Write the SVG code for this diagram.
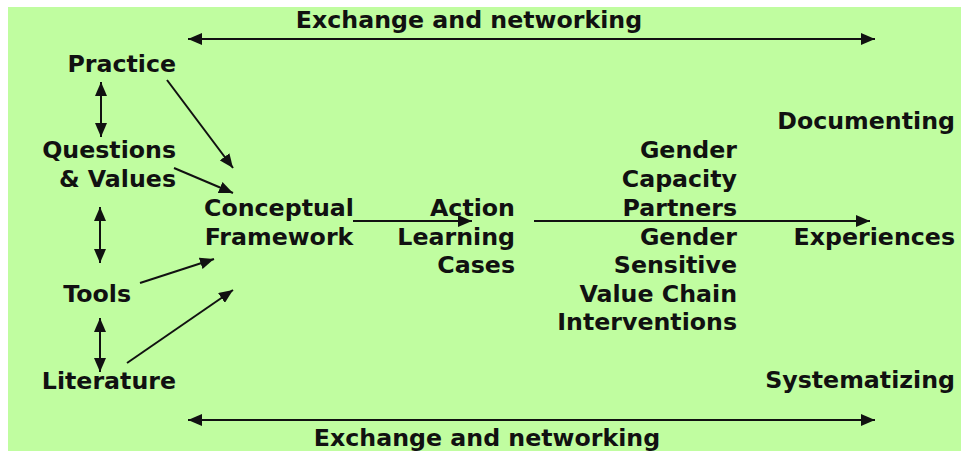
<svg xmlns="http://www.w3.org/2000/svg" width="961" height="451" viewBox="0 0 961 451">
<defs>
<style>
text{font-family:"DejaVu Sans","Verdana",sans-serif;font-weight:bold;font-size:23.7px;fill:#111}
.e{text-anchor:end}
.m{text-anchor:middle}
.c{stroke:#111;stroke-width:2;fill:none}
</style>
<marker id="ah" viewBox="0 0 14 12" refX="14" refY="6" markerWidth="14" markerHeight="12" markerUnits="userSpaceOnUse" orient="auto-start-reverse">
<path d="M0,0 L14,6 L0,12 Z" fill="#111"/>
</marker>
</defs>
<rect x="0" y="0" width="961" height="451" fill="#fff"/>
<rect x="8" y="7" width="953" height="444" fill="#c0fda0"/>
<g id="connectors">
<line class="c" x1="188" y1="39" x2="875" y2="39" marker-start="url(#ah)" marker-end="url(#ah)"/>
<line class="c" x1="188" y1="420" x2="875" y2="420" marker-start="url(#ah)" marker-end="url(#ah)"/>
<line class="c" x1="101" y1="82" x2="101" y2="137" marker-start="url(#ah)" marker-end="url(#ah)"/>
<line class="c" x1="100" y1="207" x2="100" y2="263" marker-start="url(#ah)" marker-end="url(#ah)"/>
<line class="c" x1="100" y1="318" x2="100" y2="372" marker-start="url(#ah)" marker-end="url(#ah)"/>
<line class="c" x1="167" y1="80" x2="233" y2="168" marker-end="url(#ah)"/>
<line class="c" x1="174" y1="168" x2="233" y2="193" marker-end="url(#ah)"/>
<line class="c" x1="140" y1="283" x2="214" y2="259" marker-end="url(#ah)"/>
<line class="c" x1="127" y1="363" x2="233" y2="290" marker-end="url(#ah)"/>
<line class="c" x1="353" y1="221" x2="472" y2="221" marker-end="url(#ah)"/>
<line class="c" x1="534" y1="221" x2="870" y2="221" marker-end="url(#ah)"/>
</g>
<g id="exchange-top"><text class="m" x="469" y="28">Exchange and networking</text></g>
<g id="exchange-bottom"><text class="m" x="487" y="446">Exchange and networking</text></g>
<g id="practice"><text class="e" x="176" y="72">Practice</text></g>
<g id="questions"><text class="e" x="176" y="158">Questions</text><text class="e" x="176" y="187">&amp; Values</text></g>
<g id="tools"><text class="e" x="131" y="302">Tools</text></g>
<g id="literature"><text class="e" x="176" y="389">Literature</text></g>
<g id="conceptual"><text class="m" x="279" y="216">Conceptual</text><text class="m" x="279" y="245">Framework</text></g>
<g id="action"><text class="e" x="515" y="216">Action</text><text class="e" x="515" y="245">Learning</text><text class="e" x="515" y="273">Cases</text></g>
<g id="gender"><text class="e" x="737" y="158">Gender</text><text class="e" x="737" y="187">Capacity</text><text class="e" x="737" y="216">Partners</text><text class="e" x="737" y="245">Gender</text><text class="e" x="737" y="273">Sensitive</text><text class="e" x="737" y="302">Value Chain</text><text class="e" x="737" y="330">Interventions</text></g>
<g id="documenting"><text class="e" x="955" y="129">Documenting</text></g>
<g id="experiences"><text class="e" x="955" y="245">Experiences</text></g>
<g id="systematizing"><text class="e" x="955" y="388">Systematizing</text></g>
</svg>
